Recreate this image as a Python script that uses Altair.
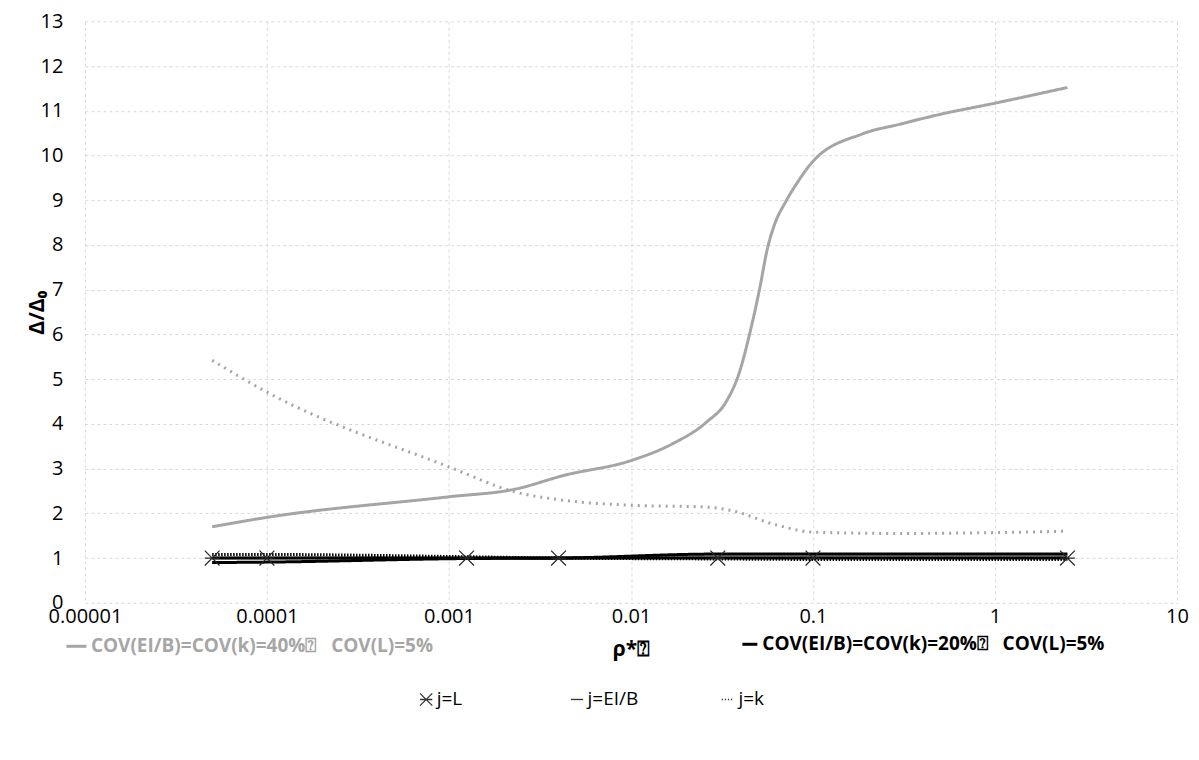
import altair as alt
import pandas as pd

FONT = "Open Sans"
GRAY = "#A5A5A5"
BLACK = "#000000"

cov40 = "COV(EI/B)=COV(k)=40%\u2370\u00a0\u00a0 COV(L)=5%"
cov20 = "COV(EI/B)=COV(k)=20%\u2370\u00a0\u00a0 COV(L)=5%"
j_labels = ["j=L", "j=EI/B", "j=k"]

x_ticks = [0.00001, 0.0001, 0.001, 0.01, 0.1, 1, 10]
y_ticks = list(range(0, 14))

# common rho values (marker positions)
rho = [0.00005, 0.0001, 0.00125, 0.004, 0.03, 0.1, 2.5]

# COV 40% , j=EI/B (grey solid, rising curve)
g_eib_x = [0.00005, 0.0001, 0.001, 0.0023, 0.0043, 0.01, 0.017, 0.026, 0.0334,
           0.0394, 0.0448, 0.0508, 0.0564, 0.0614, 0.0711, 0.0807, 0.1, 0.186,
           0.3, 0.5, 1, 2.5]
g_eib_y = [1.70, 1.91, 2.37, 2.54, 2.85, 3.18, 3.56, 4.04, 4.50,
           5.15, 6.00, 7.00, 7.95, 8.45, 8.98, 9.35, 9.87, 10.48,
           10.70, 10.92, 11.17, 11.52]

# COV 40% , j=k (grey dotted, falling curve)
g_k_x = [0.00005, 0.0001, 0.001, 0.0023, 0.0043, 0.01, 0.026, 0.035, 0.063, 0.1,
         0.3, 1, 2.5]
g_k_y = [5.42, 4.71, 3.04, 2.48, 2.29, 2.18, 2.14, 2.07, 1.74, 1.58,
         1.55, 1.57, 1.60]

# COV 40% , j=L (grey, near 1)
g_L_y = [1.00, 1.00, 1.00, 1.00, 1.05, 1.05, 1.05]

# COV 20% series (black, near 1)
b_L_y = [1.00, 1.00, 1.00, 1.00, 1.00, 1.00, 1.00]
b_eib_y = [0.90, 0.91, 0.99, 1.00, 1.09, 1.09, 1.09]
b_k_y = [1.08, 1.08, 1.03, 1.00, 0.98, 0.97, 0.97]

series_names = ["g_L", "g_EIB", "g_k", "b_L", "b_EIB", "b_k"]


def rows(xs, ys, series, cov, j):
    return [dict(rho=x, val=y, series=series, cov=cov, j=j) for x, y in zip(xs, ys)]


records = []
records += rows(rho, g_L_y, "g_L", cov40, "j=L")
records += rows(g_eib_x, g_eib_y, "g_EIB", cov40, "j=EI/B")
records += rows(g_k_x, g_k_y, "g_k", cov40, "j=k")
records += rows(rho, b_L_y, "b_L", cov20, "j=L")
records += rows(rho, b_eib_y, "b_EIB", cov20, "j=EI/B")
records += rows(rho, b_k_y, "b_k", cov20, "j=k")
df = pd.DataFrame(records)

x_enc = alt.X(
    "rho:Q",
    scale=alt.Scale(type="log", domain=[0.00001, 10], nice=False),
    axis=alt.Axis(values=x_ticks, format="~f", title="\u03c1*\u2370",
                  labelPadding=4, labelFlush=False,
                  titleY=47, titleBaseline="middle"),
)
y_enc = alt.Y(
    "val:Q",
    scale=alt.Scale(domain=[0, 13], nice=False, zero=True),
    axis=alt.Axis(values=y_ticks, title="\u0394/\u0394\u2080",
                  labelPadding=22, titleX=-47, titleY=291,
                  titleBaseline="middle"),
)


def cov_legend(x, y, label_color, sym_size):
    return alt.Legend(
        title=None, orient="none", legendX=x, legendY=y,
        direction="horizontal", symbolType="stroke", symbolSize=sym_size,
        symbolStrokeWidth=3, labelFont=FONT, labelFontSize=19,
        labelFontWeight="bold", labelOffset=3, labelColor=label_color,
    )


dash_enc = alt.StrokeDash(
    "series:N",
    scale=alt.Scale(domain=series_names,
                    range=[[1, 0], [1, 0], [2, 5], [1, 0], [1, 0], [1.5, 1.5]]),
    legend=None)
width_enc = alt.StrokeWidth(
    "series:O",
    scale=alt.Scale(domain=series_names, range=[3, 3, 2.5, 1.5, 3, 1.5]),
    legend=None)

base = alt.Chart(df)

grey_lines = base.transform_filter(alt.datum.cov == cov40).mark_line(
    interpolate="monotone").encode(
    x=x_enc, y=y_enc,
    color=alt.Color("cov:N", scale=alt.Scale(domain=[cov40], range=[GRAY]),
                    legend=cov_legend(-20, 614, "#A6A6A6", 400)),
    strokeDash=dash_enc, strokeWidth=width_enc, detail="series:N")

black_lines = base.transform_filter(alt.datum.cov == cov20).mark_line(
    interpolate="monotone").encode(
    x=x_enc, y=y_enc,
    color=alt.Color("cov:N", scale=alt.Scale(domain=[cov20], range=[BLACK]),
                    legend=cov_legend(656, 614, "#000000", 225)),
    strokeDash=dash_enc, strokeWidth=width_enc, detail="series:N")

x_path = "M-1,-1L1,1M-1,1L1,-1M-1,0L1,0"
line_path = "M-1,0L1,0"
dot_path = "M-1,0L-0.8,0M-0.5,0L-0.3,0M0,0L0.2,0M0.5,0L0.7,0"

legend_j = alt.Legend(
    title=None, orient="none", legendX=332, legendY=669,
    direction="horizontal", symbolSize=150, symbolStrokeWidth=1.3,
    symbolStrokeColor="#333333", symbolFillColor="transparent",
    labelFont=FONT, labelFontSize=19, labelOffset=1,
    columnPadding=80, gridAlign="all",
)

markers = base.transform_filter(alt.datum.series == "b_L").mark_point(
    filled=False, size=220, strokeWidth=1.2, color="#262626", opacity=1).encode(
    x=x_enc, y=y_enc,
    shape=alt.Shape("j:N", scale=alt.Scale(domain=j_labels,
                                           range=[x_path, line_path, dot_path]),
                    legend=legend_j))

chart = alt.layer(grey_lines, black_lines, markers).resolve_scale(
    color="independent"
).resolve_legend(color="independent").properties(
    width=1093, height=582,
    autosize=alt.AutoSizeParams(type="none"),
    padding={"left": 77, "top": 13, "right": 14, "bottom": 150},
).configure_axis(
    grid=True, gridColor="#D9D9D9", gridDash=[3, 3], gridWidth=1,
    domain=False, ticks=False,
    labelFont=FONT, labelFontSize=20, labelColor="#000000",
    titleFont=FONT, titleFontSize=21, titleFontWeight="bold", titleColor="#000000",
).configure_view(stroke=None).configure_legend(
    labelLimit=0,
)

chart.save("out.html", embed_options={"renderer": "svg", "actions": False})
